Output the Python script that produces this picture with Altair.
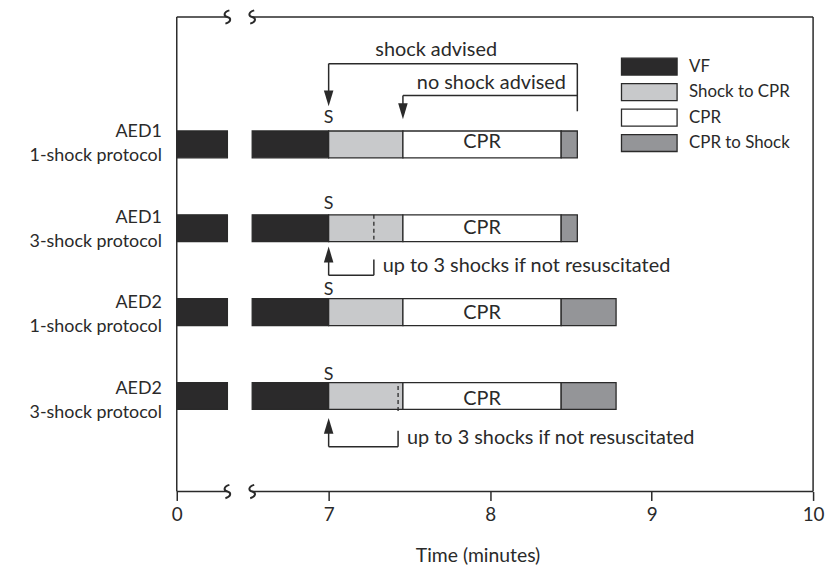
import altair as alt
import pandas as pd

# ---------------- data ----------------
row_ids = [1, 2, 3, 4]
row_labels = ["AED1\n1-shock protocol", "AED1\u2002\n3-shock protocol",
              "AED2\n1-shock protocol", "AED2\u2002\n3-shock protocol"]
phases = ["VF", "Shock to CPR", "CPR", "CPR to Shock"]
phase_colors = ["#2b2a2b", "#c8c9cb", "#ffffff", "#949598"]

axis_start = 0.0
break_start = 0.3
break_end = 6.5
axis_end = 10.0
shock_time = [7.0, 7.0, 7.0, 7.0]
cpr_start = [7.46, 7.46, 7.46, 7.46]
cpr_end = [8.44, 8.44, 8.44, 8.44]
cycle_end = [8.54, 8.54, 8.78, 8.78]
multi_shock_end = [None, 7.28, None, 7.43]
tick_values = [0, 7, 8, 9, 10]

# ---------------- tables ----------------
seg = []
for i, r in enumerate(row_ids):
    seg += [
        dict(row=r, phase="VF", start=axis_start, end=break_start),
        dict(row=r, phase="VF", start=break_end, end=shock_time[i]),
        dict(row=r, phase="Shock to CPR", start=shock_time[i], end=cpr_start[i]),
        dict(row=r, phase="CPR", start=cpr_start[i], end=cpr_end[i]),
        dict(row=r, phase="CPR to Shock", start=cpr_end[i], end=cycle_end[i]),
    ]
seg_df = pd.DataFrame(seg)

row_df = pd.DataFrame({
    "row": row_ids, "label": row_labels, "shock": shock_time,
    "cpr_mid": [(a + b) / 2 for a, b in zip(cpr_start, cpr_end)],
})
multi_df = pd.DataFrame([
    dict(row=r, shock=shock_time[i], t=multi_shock_end[i])
    for i, r in enumerate(row_ids) if multi_shock_end[i] is not None
])
advice_df = pd.DataFrame([dict(row=row_ids[0], shock=shock_time[0],
                               cpr=cpr_start[0], advice=cycle_end[0])])
leg_df = pd.DataFrame({"phase": phases})
frame_h = pd.DataFrame({"a": [axis_start, break_end] * 2,
                        "b": [break_start, axis_end] * 2,
                        "py": [0, 0, 1, 1]})
frame_v = pd.DataFrame({"x": [axis_start, axis_end]})
breaks_df = pd.DataFrame({"x": [break_start, break_end] * 2, "py": [0, 0, 1, 1]})

# ---------------- style ----------------
W, H = 641, 478
INK = "#2a2a2a"
FONT = "Lato"
xscale = alt.Scale(domain=[axis_start, break_start, break_end, shock_time[0], axis_end],
                   range=[0, 51, 76, 153, W], nice=False, zero=False)
yscale = alt.Scale(domain=[-0.46, 5.08], reverse=True, nice=False, zero=False)
fill_scale = alt.Scale(domain=phases, range=phase_colors)
frame_y = alt.Scale(domain=[0, 1], range=[0, H])

x_axis = alt.Axis(
    values=tick_values, domain=False, ticks=True, tickSize=9, tickWidth=1.5,
    tickColor=INK, labelFont=FONT, labelFontSize=19, labelColor=INK,
    labelPadding=5, labelFlush=False, labelOverlap=False, grid=False,
    title="Time (minutes)", titleFont=FONT, titleFontSize=19.5,
    titleFontWeight="normal", titleColor=INK, titleX=303, titleY=64,
    titleBaseline="middle")


def X(f):
    return alt.X(f, scale=xscale, axis=x_axis)


def Y(f="row:Q"):
    return alt.Y(f, scale=yscale, axis=None)


bars = alt.Chart(seg_df).mark_bar(size=27, stroke=INK, strokeWidth=1.3).encode(
    x=X("start:Q"), x2="end:Q", y=Y(),
    fill=alt.Fill("phase:N", scale=fill_scale, legend=None),
)

dashes = alt.Chart(multi_df).mark_rule(strokeDash=[4, 3], stroke=INK, strokeWidth=1.3,
                                       yOffset=-13, y2Offset=13).encode(
    x=X("t:Q"), y=Y(), y2="row:Q")

ylabels = alt.Chart(row_df).mark_text(align="right", baseline="middle", lineBreak="\n",
                                      font=FONT, fontSize=18, lineHeight=24, color=INK,
                                      dy=-10).encode(
    x=alt.value(-15), y=Y(), text="label:N")

s_text = alt.Chart(row_df).mark_text(text="S", font=FONT, fontSize=18, color=INK,
                                     dy=-24).encode(x=X("shock:Q"), y=Y())
cpr_text = alt.Chart(row_df).mark_text(text="CPR", font=FONT, fontSize=20, color=INK
                                       ).encode(x=X("cpr_mid:Q"), y=Y())

DOWN = "M-0.6,-1L0.6,-1L0,1Z"
UP = "M-0.6,1L0.6,1L0,-1Z"
SQUIGGLE = "M0.3,-1C-0.6,-0.75,-0.6,-0.15,0,0C0.6,0.15,0.6,0.75,-0.3,1"
arrow_kw = dict(filled=True, opacity=1, size=256, color=INK, strokeWidth=0)
rule_kw = dict(color=INK, strokeWidth=1.5)
ANN = 20

# row 1 annotation: shock advised / no shock advised
a_base = alt.Chart(advice_df)
ann1 = [
    a_base.mark_rule(yOffset=-79, **rule_kw).encode(x=X("shock:Q"), x2="advice:Q", y=Y()),
    a_base.mark_rule(yOffset=-79, y2Offset=-42, **rule_kw).encode(x=X("shock:Q"), y=Y(), y2="row:Q"),
    a_base.mark_point(shape=DOWN, yOffset=-44, **arrow_kw).encode(x=X("shock:Q"), y=Y()),
    a_base.mark_rule(yOffset=-79, y2Offset=-31, **rule_kw).encode(x=X("advice:Q"), y=Y(), y2="row:Q"),
    a_base.mark_rule(yOffset=-47, **rule_kw).encode(x=X("cpr:Q"), x2="advice:Q", y=Y()),
    a_base.mark_rule(yOffset=-47, y2Offset=-29, **rule_kw).encode(x=X("cpr:Q"), y=Y(), y2="row:Q"),
    a_base.mark_point(shape=DOWN, yOffset=-31, **arrow_kw).encode(x=X("cpr:Q"), y=Y()),
    a_base.mark_text(text="shock advised", align="left", font=FONT, fontSize=ANN, color=INK,
                     dx=47, dy=-93).encode(x=X("shock:Q"), y=Y()),
    a_base.mark_text(text="no shock advised", align="left", font=FONT, fontSize=ANN, color=INK,
                     dx=14, dy=-59).encode(x=X("cpr:Q"), y=Y()),
]

# 3-shock protocol brackets
m_base = alt.Chart(multi_df)
ann3 = [
    m_base.mark_point(shape=UP, yOffset=27, **arrow_kw).encode(x=X("shock:Q"), y=Y()),
    m_base.mark_rule(yOffset=30, y2Offset=48, **rule_kw).encode(x=X("shock:Q"), y=Y(), y2="row:Q"),
    m_base.mark_rule(yOffset=48, **rule_kw).encode(x=X("shock:Q"), x2="t:Q", y=Y()),
    m_base.mark_rule(yOffset=32, y2Offset=48, **rule_kw).encode(x=X("t:Q"), y=Y(), y2="row:Q"),
    m_base.mark_text(text="up to 3 shocks if not resuscitated", align="left", font=FONT,
                     fontSize=ANN, color=INK, dx=9, dy=39).encode(x=X("t:Q"), y=Y()),
]

# frame with axis break
frame = [
    alt.Chart(frame_h).mark_rule(color=INK, strokeWidth=1.5).encode(
        x=X("a:Q"), x2="b:Q", y=alt.Y("py:Q", scale=frame_y, axis=None)),
    alt.Chart(frame_v).mark_rule(color=INK, strokeWidth=1.5).encode(
        x=X("x:Q"), y=alt.value(0), y2=alt.value(H)),
    alt.Chart(breaks_df).mark_point(shape=SQUIGGLE, size=180, filled=False, opacity=1,
                                    stroke=INK, strokeWidth=2).encode(
        x=X("x:Q"), y=alt.Y("py:Q", scale=frame_y, axis=None)),
]

# manual legend
leg_y = alt.Y("phase:N", sort=phases, axis=None,
              scale=alt.Scale(type="point", range=[50, 127], padding=0))
legend = [
    alt.Chart(leg_df).mark_point(shape="M-1,-0.3036H1V0.3036H-1Z", size=3136, filled=True,
                                 opacity=1, stroke=INK, strokeWidth=1.3).encode(
        x=alt.value(476), y=leg_y,
        fill=alt.Fill("phase:N", scale=fill_scale, legend=None)),
    alt.Chart(leg_df).mark_text(align="left", font=FONT, fontSize=17, color=INK).encode(
        x=alt.value(516), y=leg_y, text="phase:N"),
]

chart = alt.layer(bars, dashes, ylabels, s_text, cpr_text, *ann1, *ann3, *frame, *legend
                  ).resolve_scale(y="independent").properties(
    width=W, height=H,
    padding={"left": 170, "top": 7, "right": 12, "bottom": 79},
    autosize=alt.AutoSizeParams(type="none"),
).configure_view(stroke=None)

chart.save("out.html", embed_options={"renderer": "svg", "actions": False})
